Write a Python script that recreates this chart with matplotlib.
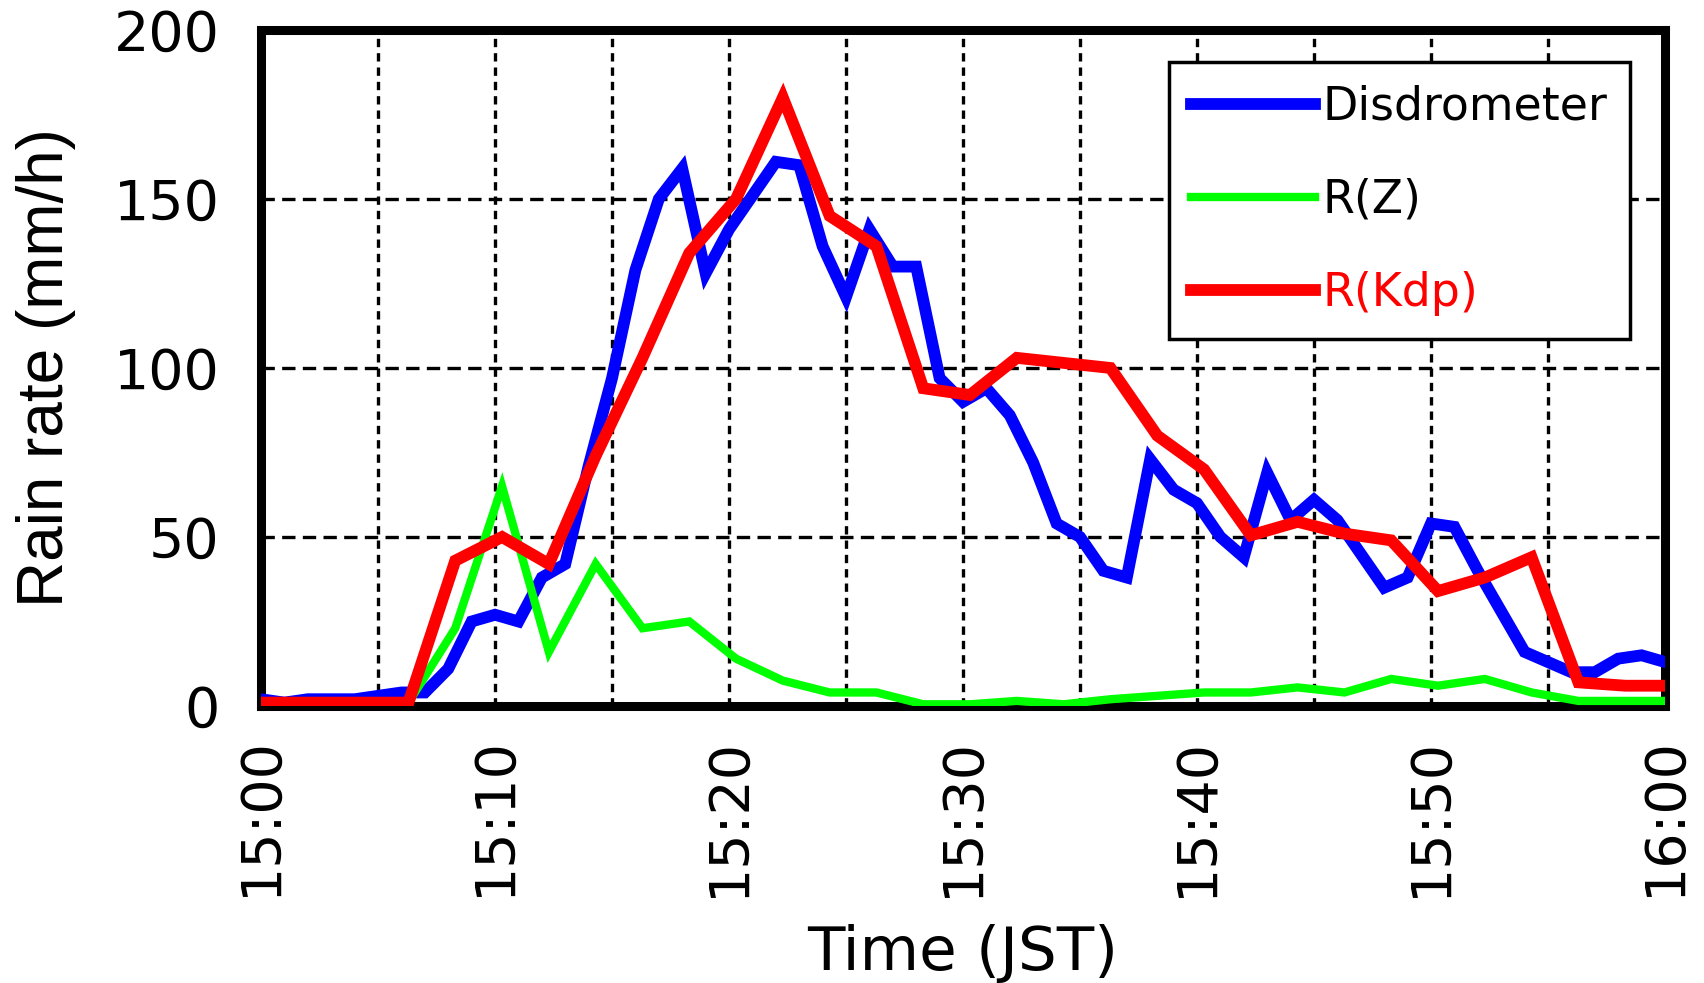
import numpy as np
import matplotlib.pyplot as plt

# minutes after 15:00 (JST)
disd_min = np.arange(0, 61, 1)
disd_rate = [2, 1, 2, 2, 2, 3, 4, 4, 11, 25,
             27, 25, 38, 42, 71, 97, 129, 150, 159, 128,
             141, 151, 161, 160, 136, 121, 141, 130, 130, 97,
             90, 94, 86, 72, 54, 50, 40, 38, 73, 64,
             60, 50, 44, 69, 55, 61, 55, 45, 35, 38,
             54, 53, 40, 28, 16, 13, 10, 10, 14, 15,
             13]

# radar scans, about 20 s after each even minute
radar_min = np.arange(-1.7, 61, 2)
rz_rate = [1, 1, 1, 1, 1, 23, 65, 16, 42, 23,
           25, 14, 7.5, 4, 4, 0.5, 0.5, 1.5, 0.5, 2,
           3, 4, 4, 5.5, 4, 8, 6, 8, 4, 1.5,
           1.5, 1.5]
rkdp_rate = [1, 1, 1, 1, 1, 43, 50, 42, 74, 103,
             134, 150, 180, 145, 136, 94, 92, 103, 101.5, 100,
             80, 70, 50.5, 54.5, 51, 49, 34, 38, 44, 7,
             6, 6]

xtick_pos = [0, 10, 20, 30, 40, 50, 60]
xtick_labels = ["15:00", "15:10", "15:20", "15:30", "15:40", "15:50", "16:00"]
yticks = [0, 50, 100, 150, 200]

fig = plt.figure(figsize=(17.04, 9.83), dpi=100)
ax = fig.add_axes([0.1532, 0.2818, 0.8239, 0.6877])

l1, = ax.plot(disd_min, disd_rate, color="#0000ff", lw=8.5, zorder=3,
              solid_joinstyle="miter", label="Disdrometer")
l2, = ax.plot(radar_min, rz_rate, color="#00ff00", lw=6, zorder=3,
              solid_joinstyle="miter", label="R(Z)")
l3, = ax.plot(radar_min, rkdp_rate, color="#ff0000", lw=8.5, zorder=3,
              solid_joinstyle="miter", label="R(Kdp)")

ax.set_xlim(0, 60)
ax.set_ylim(0, 200)
ax.set_xticks(xtick_pos)
ax.set_xticklabels(xtick_labels, rotation=90)
ax.set_xticks(np.arange(5, 60, 10), minor=True)
ax.set_yticks(yticks)
ax.tick_params(axis="both", which="both", length=0, labelsize=40)
ax.tick_params(axis="y", pad=30)
ax.tick_params(axis="x", pad=22)

ax.grid(axis="x", which="both", color="black", lw=2.4, ls=(0, (2.5, 1.8)), zorder=1)
ax.grid(axis="y", which="major", color="black", lw=2.4, ls=(0, (4, 2.2)), zorder=1)

for s in ax.spines.values():
    s.set_linewidth(6.5)
    s.set_zorder(2.5)

ax.set_ylabel("Rain rate (mm/h)", fontsize=46,
              family=["Liberation Sans", "DejaVu Sans"])
ax.yaxis.set_label_coords(-0.132, 0.5)
ax.set_xlabel("Time (JST)", fontsize=44)
ax.xaxis.set_label_coords(0.5, -0.322)

leg = ax.legend(handles=[l1, l2, l3], loc="upper right",
                bbox_to_anchor=(0.975, 0.953), borderaxespad=0, fontsize=33,
                handlelength=2.7, handletextpad=0.15, labelspacing=1.05,
                borderpad=0.5, fancybox=False, framealpha=1,
                edgecolor="black")
leg.get_frame().set_linewidth(2.5)
leg.set_zorder(5)
leg.get_texts()[2].set_color("#ff0000")

fig.savefig("out.png", dpi=100)
